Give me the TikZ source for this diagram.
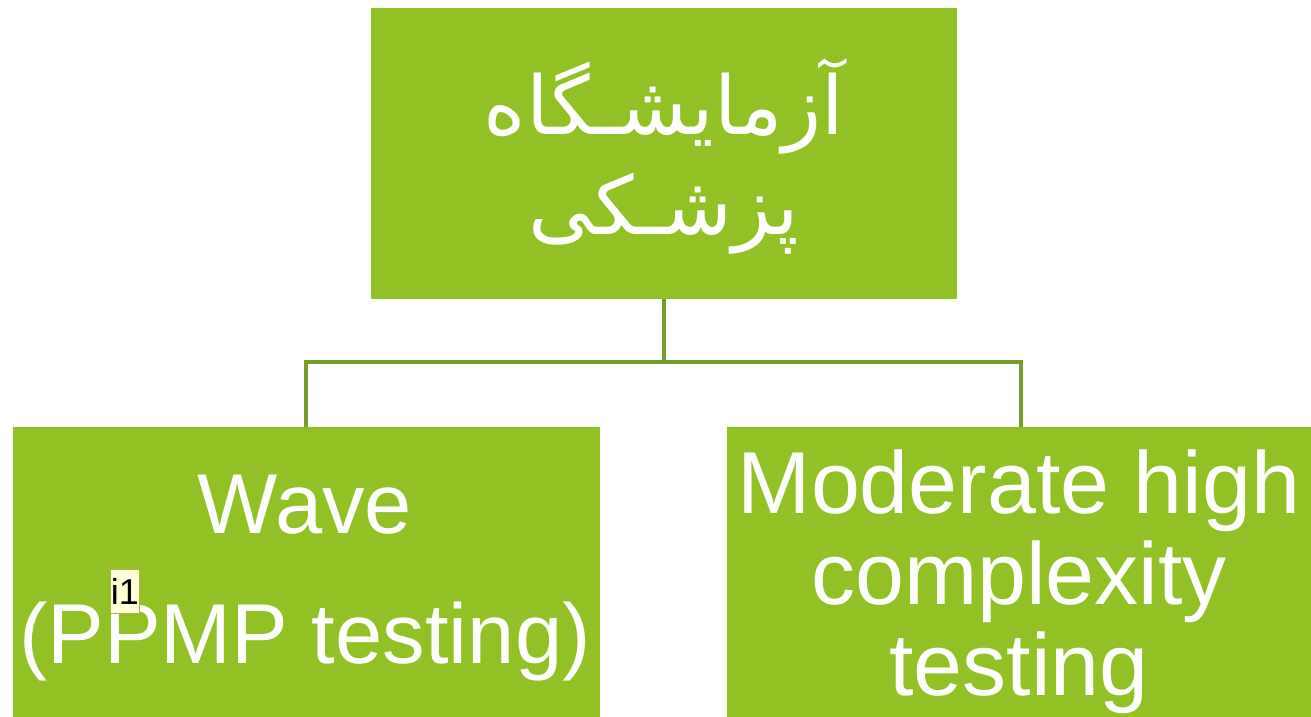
\documentclass[tikz,border=0pt]{standalone}
\usepackage{fontspec}
\setmainfont{Liberation Sans}
\newfontfamily\arabicfont[Script=Arabic]{DejaVu Sans}
\TeXXeTstate=1
\definecolor{boxgreen}{HTML}{92C125}
\definecolor{linegreen}{HTML}{779E2C}
\definecolor{notefill}{HTML}{FFFFD8}
\definecolor{noteline}{HTML}{B5B04A}
\tikzset{
  greenbox/.style={fill=boxgreen, draw=none, inner sep=0pt, text=white, align=center},
  conn/.style={draw=linegreen, line width=3.5pt},
  notebox/.style={fill=notefill, draw=noteline, line width=1pt, inner sep=0pt, text=black,
    minimum width=28pt, minimum height=44pt, font=\fontsize{36}{38}\selectfont}
}
\begin{document}
\begin{tikzpicture}[x=1pt,y=-1pt]
\useasboundingbox (0,0) rectangle (1311,716);
\fill[white] (0,0) rectangle (1311,716);
% boxes
\node[greenbox, minimum width=586pt, minimum height=291pt] (top) at (664,153.5) {};
\node[greenbox, minimum width=587pt, minimum height=290pt] (left) at (306.5,572) {};
\node[greenbox, minimum width=584pt, minimum height=290pt] (right) at (1019,572) {};
% texts
\node[text=white, align=center, inner sep=0pt, font=\arabicfont\fontsize{81}{100}\selectfont] (toptext) at (664,156)
  {\beginR آزمایشـگاه\endR\\\beginR پزشـکی\endR};
\node[text=white, align=center, inner sep=0pt, font=\fontsize{85}{130}\selectfont] (lefttext) at (305,578)
  {Wave\\(PPMP testing)};
\node[text=white, align=center, inner sep=0pt, font=\fontsize{88}{91}\selectfont] (righttext) at (1019,582)
  {Moderate high\\complexity\\testing};
% note marker
\node[notebox] (note) at (125,591) {i1};
% connectors
\coordinate (mid) at (664,362);
\coordinate (lt) at (306,427);
\coordinate (rt) at (1021,427);
\draw[conn] (top.south) -- (mid);
\draw[conn] (lt) |- (mid) -| (rt);
\end{tikzpicture}
\end{document}
